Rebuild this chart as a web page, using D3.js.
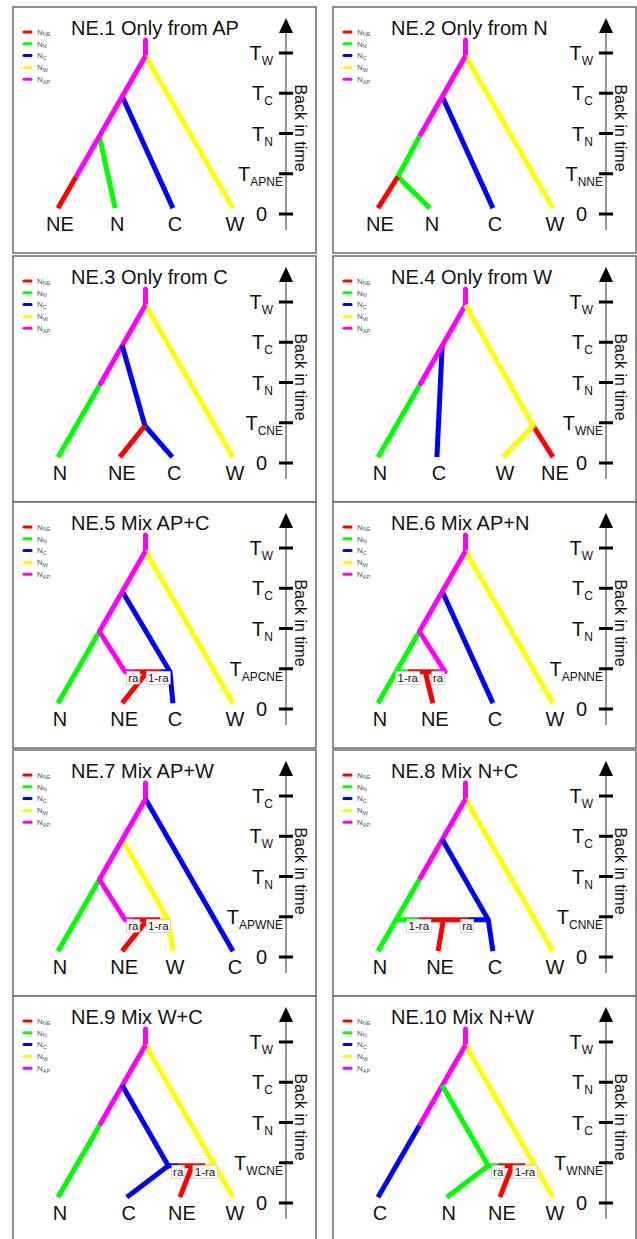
<!DOCTYPE html>
<html><head><meta charset="utf-8">
<script src="https://cdn.jsdelivr.net/npm/d3@7"></script>
<style>
body{margin:0;background:#fff;}
text{font-family:Arial,"Liberation Sans",sans-serif;}
</style>
</head><body>
<svg id="c" width="637" height="1239"></svg>
<script>
// ---------- data ----------
const colorKeys = ["NE", "N", "C", "W", "AP"];
const colorValues = ["#ff0000", "#00ff00", "#0000ff", "#ffff00", "#ff00ff"];
const legendSubs = ["NE", "N", "C", "W", "AP"];

const panelIds = ["NE.1", "NE.2", "NE.3", "NE.4", "NE.5", "NE.6", "NE.7", "NE.8", "NE.9", "NE.10"];
const panelTitles = ["Only from AP", "Only from N", "Only from C", "Only from W", "Mix AP+C",
  "Mix AP+N", "Mix AP+W", "Mix N+C", "Mix W+C", "Mix N+W"];

const tickTimes = [4, 3, 2, 1, 0];
const tickMains = ["T", "T", "T", "T", "0"];
const tickSubs = [
  ["W", "C", "N", "APNE", ""],
  ["W", "C", "N", "NNE", ""],
  ["W", "C", "N", "CNE", ""],
  ["W", "C", "N", "WNE", ""],
  ["W", "C", "N", "APCNE", ""],
  ["W", "C", "N", "APNNE", ""],
  ["C", "W", "N", "APWNE", ""],
  ["W", "C", "N", "CNNE", ""],
  ["W", "C", "N", "WCNE", ""],
  ["W", "N", "C", "WNNE", ""]
];

const leafTime = 0.22;
const rootTime = 4;
const rootTopTime = 4.4;
const rootPos = 1.5;

const leafNames = [
  ["NE", "N", "C", "W"], ["NE", "N", "C", "W"], ["N", "NE", "C", "W"], ["N", "C", "W", "NE"],
  ["N", "NE", "C", "W"], ["N", "NE", "C", "W"], ["N", "NE", "W", "C"], ["N", "NE", "C", "W"],
  ["N", "C", "NE", "W"], ["C", "N", "NE", "W"]
];
const leafPos = [
  [0, 0.98, 1.97, 3], [0, 0.89, 1.97, 3], [0, 1.06, 1.96, 3], [0, 1.01, 2.14, 3],
  [0, 1.10, 1.97, 3], [0, 0.94, 1.97, 3], [0, 1.10, 1.97, 3], [0, 1.03, 1.97, 3],
  [0, 1.18, 2.09, 3], [0, 1.18, 2.09, 3]
];

// branches: [population, [[position, time], ...]]
const branches = [
  [ ["W", [[1.5, 4], [3, 0.22]]], ["C", [[1.10, 3], [1.97, 0.22]]], ["N", [[0.71, 2], [0.98, 0.22]]],
    ["AP", [[1.5, 4], [0.31, 1]]], ["NE", [[0.31, 1], [0, 0.22]]] ],
  [ ["W", [[1.5, 4], [3, 0.22]]], ["C", [[1.10, 3], [1.97, 0.22]]],
    ["AP", [[1.5, 4], [0.71, 2]]], ["N", [[0.71, 2], [0.34, 1], [0.89, 0.22]]], ["NE", [[0.34, 1], [0, 0.22]]] ],
  [ ["W", [[1.5, 4], [3, 0.22]]], ["AP", [[1.5, 4], [0.71, 2]]], ["N", [[0.71, 2], [0, 0.22]]],
    ["C", [[1.10, 3], [1.49, 1], [1.96, 0.22]]], ["NE", [[1.49, 1], [1.06, 0.22]]] ],
  [ ["C", [[1.10, 3], [1.01, 0.22]]], ["AP", [[1.5, 4], [0.71, 2]]], ["N", [[0.71, 2], [0, 0.22]]],
    ["NE", [[2.66, 1], [3, 0.22]]], ["W", [[1.5, 4], [2.66, 1], [2.14, 0.22]]] ],
  [ ["W", [[1.5, 4], [3, 0.22]]], ["N", [[0.71, 2], [0, 0.22]]],
    ["C", [[1.10, 3], [1.92, 1], [1.97, 0.22]]], ["C", [[1.75, 1], [1.92, 1]]],
    ["AP", [[1.5, 4], [0.71, 2], [1.15, 1], [1.29, 1]]],
    ["NE", [[1.53, 1], [1.10, 0.22]]], ["NE", [[1.29, 1], [1.75, 1]]] ],
  [ ["W", [[1.5, 4], [3, 0.22]]], ["C", [[1.10, 3], [1.97, 0.22]]],
    ["N", [[0.71, 2], [0.31, 1], [0, 0.22]]], ["N", [[0.31, 1], [0.51, 1]]],
    ["AP", [[1.5, 4], [0.71, 2], [1.15, 1], [0.98, 1]]],
    ["NE", [[0.81, 1], [0.94, 0.22]]], ["NE", [[0.51, 1], [0.98, 1]]] ],
  [ ["C", [[1.5, 4], [3, 0.22]]], ["N", [[0.71, 2], [0, 0.22]]],
    ["W", [[1.10, 3], [1.89, 1], [1.97, 0.22]]], ["W", [[1.75, 1], [1.89, 1]]],
    ["AP", [[1.5, 4], [0.71, 2], [1.15, 1], [1.29, 1]]],
    ["NE", [[1.53, 1], [1.10, 0.22]]], ["NE", [[1.29, 1], [1.75, 1]]] ],
  [ ["W", [[1.5, 4], [3, 0.22]]], ["AP", [[1.5, 4], [0.71, 2]]],
    ["N", [[0.71, 2], [0.31, 1], [0, 0.22]]], ["N", [[0.31, 1], [0.69, 1]]],
    ["C", [[1.10, 3], [1.89, 1], [1.97, 0.22]]], ["C", [[1.54, 1], [1.89, 1]]],
    ["NE", [[1.12, 1], [1.03, 0.22]]], ["NE", [[0.69, 1], [1.54, 1]]] ],
  [ ["W", [[1.5, 4], [3, 0.22]]], ["W", [[2.52, 1], [2.69, 1]]], ["AP", [[1.5, 4], [0.71, 2]]],
    ["N", [[0.71, 2], [0, 0.22]]],
    ["C", [[1.10, 3], [1.89, 1], [1.18, 0.22]]], ["C", [[1.89, 1], [2.06, 1]]],
    ["NE", [[2.30, 1], [2.09, 0.22]]], ["NE", [[2.06, 1], [2.52, 1]]] ],
  [ ["W", [[1.5, 4], [3, 0.22]]], ["W", [[2.52, 1], [2.69, 1]]], ["AP", [[1.5, 4], [0.71, 2]]],
    ["C", [[0.71, 2], [0, 0.22]]],
    ["N", [[1.10, 3], [1.89, 1], [1.18, 0.22]]], ["N", [[1.89, 1], [2.06, 1]]],
    ["NE", [[2.30, 1], [2.09, 0.22]]], ["NE", [[2.06, 1], [2.52, 1]]] ]
];

// admixture proportion labels: [text, position]
const mixLabelTime = 0.84;
const mixLabels = [
  [], [], [], [],
  [["ra", 1.29], ["1-ra", 1.72]],
  [["1-ra", 0.51], ["ra", 1.03]],
  [["ra", 1.29], ["1-ra", 1.72]],
  [["1-ra", 0.70], ["ra", 1.53]],
  [["ra", 2.06], ["1-ra", 2.52]],
  [["ra", 2.06], ["1-ra", 2.52]]
];

// ---------- layout ----------
const colX = [13, 333];
const rowY = [7, 256, 502, 750, 996];
const panelW = 303, panelH = 246;

const color = d3.scaleOrdinal().domain(colorKeys).range(colorValues);
const x = d3.scaleLinear().domain([0, 3]).range([45, 220]);
const y = d3.scaleLinear().domain([0, 4]).range([207, 46]);
const treeShift = 3;
const line = d3.line().x(d => x(d[0])).y(d => y(d[1]) + treeShift);

const svg = d3.select("#c");

panelIds.forEach((pid, i) => {
  const g = svg.append("g")
    .attr("transform", `translate(${colX[i % 2]},${rowY[Math.floor(i / 2)]})`);

  g.append("rect").attr("x", 0).attr("y", 0).attr("width", panelW).attr("height", panelH)
    .attr("fill", "#fff").attr("stroke", "#6b6b6b").attr("stroke-width", 1.5);

  // title
  g.append("text").attr("x", 58).attr("y", 28).attr("font-size", 20).attr("fill", "#111")
    .text(pid + " " + panelTitles[i]);

  // legend
  const lg = g.append("g");
  colorKeys.forEach((k, j) => {
    const yy = 25 + j * 11.8;
    lg.append("line").attr("x1", 11).attr("x2", 18).attr("y1", yy).attr("y2", yy)
      .attr("stroke", color(k)).attr("stroke-width", 3).attr("stroke-linecap", "round");
    const t = lg.append("text").attr("x", 24).attr("y", yy + 2.8).attr("font-size", 8).attr("fill", "#555");
    t.append("tspan").text("N");
    t.append("tspan").attr("font-size", 5.5).attr("dy", 1.5).text(legendSubs[j]);
  });

  // time axis
  const ax = g.append("g");
  ax.append("line").attr("x1", 273).attr("x2", 273).attr("y1", 24).attr("y2", 223)
    .attr("stroke", "#777").attr("stroke-width", 1.5);
  ax.append("path").attr("d", "M273,11 L280,26 L266,26 Z").attr("fill", "#000");
  tickTimes.forEach((tt, j) => {
    const yy = y(tt);
    ax.append("line").attr("x1", 266).attr("x2", 280).attr("y1", yy).attr("y2", yy)
      .attr("stroke", "#000").attr("stroke-width", 3);
    const sub = tickSubs[i][j];
    const endX = tickMains[j] === "0" ? 254 : (sub.length > 2 ? 270 : 260);
    const t = ax.append("text").attr("x", endX).attr("y", yy + 7).attr("text-anchor", "end")
      .attr("font-size", 20).attr("fill", "#111");
    t.append("tspan").text(tickMains[j]);
    if (sub) t.append("tspan").attr("font-size", 12).attr("dy", 5).text(sub);
  });
  ax.append("text").attr("transform", `translate(288,121) rotate(90)`)
    .attr("text-anchor", "middle").attr("dy", "0.35em").attr("font-size", 16).attr("fill", "#111")
    .text("Back in time");

  // tree
  const tg = g.append("g");
  tg.append("path").attr("d", line([[rootPos, rootTopTime], [rootPos, rootTime]]))
    .attr("fill", "none").attr("stroke", color("AP")).attr("stroke-width", 5).attr("stroke-linecap", "round");
  branches[i].forEach(b => {
    tg.append("path").attr("d", line(b[1])).attr("fill", "none")
      .attr("stroke", color(b[0])).attr("stroke-width", 5)
      .attr("stroke-linejoin", "round").attr("stroke-linecap", "butt");
  });

  // mixture labels
  mixLabels[i].forEach(m => {
    const lx = x(m[1]), ly = y(mixLabelTime) + treeShift;
    const w = m[0].length * 5.6 + 2;
    tg.append("rect").attr("x", lx - w / 2).attr("y", ly - 7).attr("width", w).attr("height", 13)
      .attr("fill", "#fff").attr("stroke", "#aaa").attr("stroke-width", 0.5);
    tg.append("text").attr("x", lx).attr("y", ly).attr("dy", "0.35em").attr("text-anchor", "middle")
      .attr("font-size", 11.5).attr("fill", "#111").text(m[0]);
  });

  // leaf labels
  leafNames[i].forEach((n, j) => {
    g.append("text").attr("x", x(leafPos[i][j]) + 2).attr("y", 224).attr("text-anchor", "middle")
      .attr("font-size", 20).attr("fill", "#111").text(n);
  });
});
</script>
</body></html>
